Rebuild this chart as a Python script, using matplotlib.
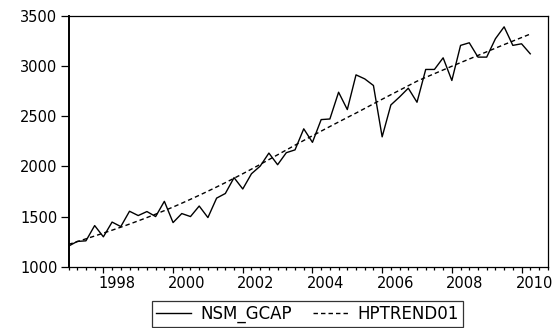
import numpy as np
import pandas as pd
import matplotlib
matplotlib.use('Agg')
import matplotlib.pyplot as plt

# quarterly sample 1997Q1 - 2010Q2
quarters = pd.period_range('1997Q1', '2010Q2', freq='Q')

nsm_gcap = [1205, 1252, 1258, 1410, 1298, 1445, 1400, 1553, 1510, 1550,
            1500, 1652, 1440, 1530, 1500, 1605, 1490, 1684, 1730, 1888,
            1775, 1927, 2003, 2133, 2017, 2137, 2165, 2375, 2240, 2467,
            2473, 2740, 2567, 2913, 2873, 2807, 2295, 2613, 2693, 2780,
            2640, 2967, 2967, 3083, 2857, 3207, 3233, 3090, 3090, 3273,
            3392, 3207, 3223, 3123]

hptrend01 = [1222, 1250, 1278, 1306, 1335, 1364, 1394, 1425, 1457, 1490,
             1524, 1559, 1595, 1633, 1672, 1712, 1753, 1795, 1838, 1882,
             1927, 1973, 2020, 2068, 2116, 2164, 2212, 2259, 2306, 2352,
             2398, 2443, 2488, 2532, 2578, 2624, 2670, 2715, 2760, 2805,
             2850, 2888, 2925, 2962, 2999, 3035, 3071, 3107, 3143, 3179,
             3215, 3250, 3285, 3320]

year_labels = ['1998', '2000', '2002', '2004', '2006', '2008', '2010']
y_ticks = [1000, 1500, 2000, 2500, 3000, 3500]

x = np.asarray(quarters.year + (quarters.quarter - 1) / 4.0, dtype=float)

plt.rcParams['font.family'] = ['DejaVu Sans']

fig = plt.figure(figsize=(5.58, 3.28), dpi=100)
ax = fig.add_axes([0.1228, 0.1869, 0.9815 - 0.1228, 0.9512 - 0.1869])

ax.plot(x, nsm_gcap, color='black', lw=1.0, label='NSM_GCAP')
ax.plot(x, hptrend01, color='black', lw=1.0, dashes=(3.2, 2.2), label='HPTREND01')

ax.set_xlim(1997.0, 2010.75)
ax.set_ylim(1000, 3500)

# y axis
ax.set_yticks(y_ticks)
ax.tick_params(axis='y', direction='out', length=6, width=0.9, pad=2, labelsize=10.5)

# x axis: long ticks every 2 years, short ticks every quarter, no labels on ticks
even_years = [int(s) for s in year_labels]
ax.set_xticks(even_years)
ax.set_xticklabels([])
ax.set_xticks(np.arange(1997.0, 2010.76, 0.25), minor=True)
ax.tick_params(axis='x', which='major', direction='out', length=4.2, width=0.9)
ax.tick_params(axis='x', which='minor', direction='out', length=2.4, width=0.9)

# year labels centred over the four quarters of each year
sec = ax.secondary_xaxis('bottom')
sec.set_xticks([y + 0.375 for y in even_years])
sec.set_xticklabels(year_labels)
sec.tick_params(length=0, pad=7, labelsize=10.5)
sec.spines['bottom'].set_visible(False)

for side in ['top', 'right', 'bottom']:
    ax.spines[side].set_linewidth(0.9)
ax.spines['left'].set_linewidth(1.4)

leg = ax.legend(loc='center', bbox_to_anchor=(0.551, 0.043), bbox_transform=fig.transFigure,
                ncol=2, frameon=True, fancybox=False, fontsize=12, handlelength=2.1,
                handletextpad=0.55, columnspacing=1.3, borderpad=0.22, borderaxespad=0)
leg.get_frame().set_edgecolor('black')
leg.get_frame().set_linewidth(0.9)

fig.savefig('out.png', dpi=100)
